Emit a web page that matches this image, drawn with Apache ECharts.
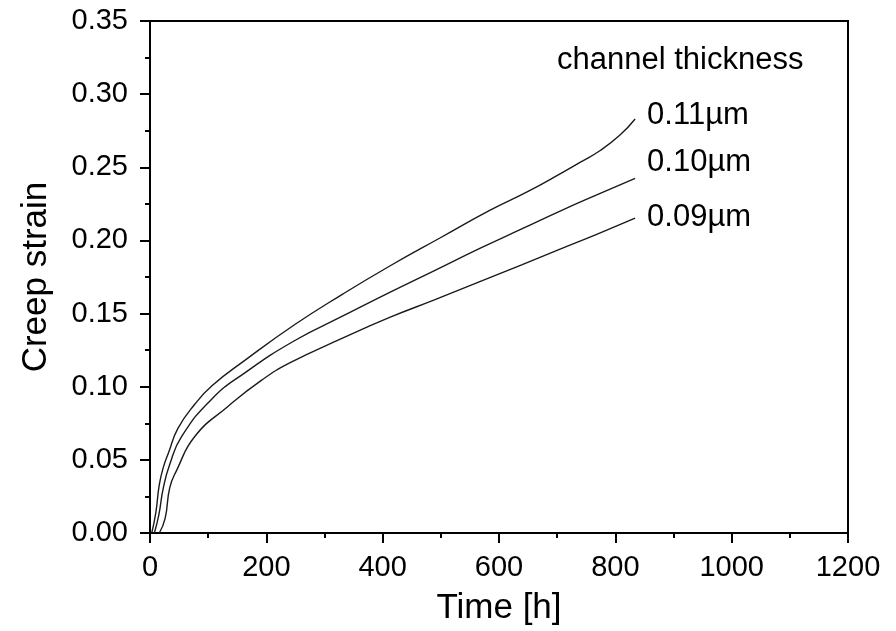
<!DOCTYPE html>
<html>
<head>
<meta charset="utf-8">
<script src="https://cdn.jsdelivr.net/npm/echarts@6/dist/echarts.min.js"></script>
<style>
  html, body { margin: 0; padding: 0; background: #fff; }
  #chart { width: 896px; height: 631px; }
</style>
</head>
<body>
<div id="chart"></div>
<script>
// Creep strain vs. time for three channel thicknesses, [time h, strain]
const seriesNames = ['0.11\u00b5m', '0.10\u00b5m', '0.09\u00b5m'];
const curve011 = [
  [3, 0], [10, 0.014], [16, 0.033], [23, 0.045], [32, 0.055], [48, 0.0715],
  [77, 0.088], [107, 0.1008], [163, 0.118], [249, 0.1425], [330, 0.163],
  [413, 0.1827], [500, 0.202], [584, 0.2205], [650, 0.2335], [705, 0.2455],
  [740, 0.2535], [774, 0.2615], [808, 0.272], [834, 0.283]
];
const curve010 = [
  [7.5, 0], [15, 0.012], [23, 0.031], [34, 0.047], [54.5, 0.066],
  [106, 0.0915], [163, 0.1095], [249, 0.1316], [330, 0.148], [413, 0.1646],
  [490, 0.1795], [567, 0.1945], [640, 0.208], [705, 0.2201], [770, 0.2315], [834, 0.2424]
];
const curve009 = [
  [16, 0], [26, 0.010], [34, 0.031], [46, 0.043], [77, 0.066], [134, 0.0865],
  [192, 0.1045], [241, 0.1164], [330, 0.133], [413, 0.1475], [490, 0.1595],
  [567, 0.1718], [640, 0.1835], [705, 0.194], [770, 0.2045], [834, 0.2152]
];
const curves = [curve011, curve010, curve009];
const endLabelOffsets = [[4, -4], [4, -16], [4, -1]];
const xTicks = { min: 0, max: 1200, interval: 200 };
const yTicks = { min: 0, max: 0.35, interval: 0.05 };

const FONT = '"Liberation Sans", Arial, sans-serif';
const chart = echarts.init(document.getElementById('chart'), null, { renderer: 'canvas' });

const axisCommon = {
  axisLine: { show: true, onZero: false, lineStyle: { color: '#000', width: 2 } },
  axisTick: { show: true, inside: false, length: 10, lineStyle: { color: '#000', width: 2 } },
  minorTick: { show: true, splitNumber: 2, length: 5, lineStyle: { color: '#000', width: 2 } },
  splitLine: { show: false },
  minorSplitLine: { show: false }
};

chart.setOption({
  backgroundColor: '#fff',
  animation: false,
  grid: {
    left: 150, right: 48, top: 21, bottom: 96,
    show: true, borderColor: '#000', borderWidth: 2, backgroundColor: 'transparent'
  },
  xAxis: Object.assign({
    type: 'value',
    min: xTicks.min, max: xTicks.max, interval: xTicks.interval,
    name: 'Time [h]',
    nameLocation: 'middle',
    nameGap: 58,
    nameTextStyle: { fontFamily: FONT, fontSize: 35, color: '#000' },
    axisLabel: {
      margin: 20, fontFamily: FONT, fontSize: 29, color: '#000',
      formatter: v => String(v)
    }
  }, axisCommon),
  yAxis: Object.assign({
    type: 'value',
    min: yTicks.min, max: yTicks.max, interval: yTicks.interval,
    name: 'Creep strain',
    nameLocation: 'middle',
    nameGap: 96,
    nameTextStyle: { fontFamily: FONT, fontSize: 35, color: '#000' },
    axisLabel: {
      margin: 22, fontFamily: FONT, fontSize: 29, color: '#000',
      formatter: v => v.toFixed(2)
    }
  }, axisCommon),
  graphic: [{
    type: 'text',
    left: 557, top: 45,
    style: { text: 'channel thickness', fontFamily: FONT, fontSize: 31, fill: '#000' }
  }],
  series: curves.map((data, i) => ({
    name: seriesNames[i],
    type: 'line',
    data: data,
    smooth: 0.5,
    showSymbol: false,
    lineStyle: { color: '#1a1a1a', width: 1.4 },
    endLabel: {
      show: true,
      formatter: '{a}',
      offset: endLabelOffsets[i],
      fontFamily: FONT, fontSize: 31, color: '#000'
    }
  }))
});
</script>
</body>
</html>
